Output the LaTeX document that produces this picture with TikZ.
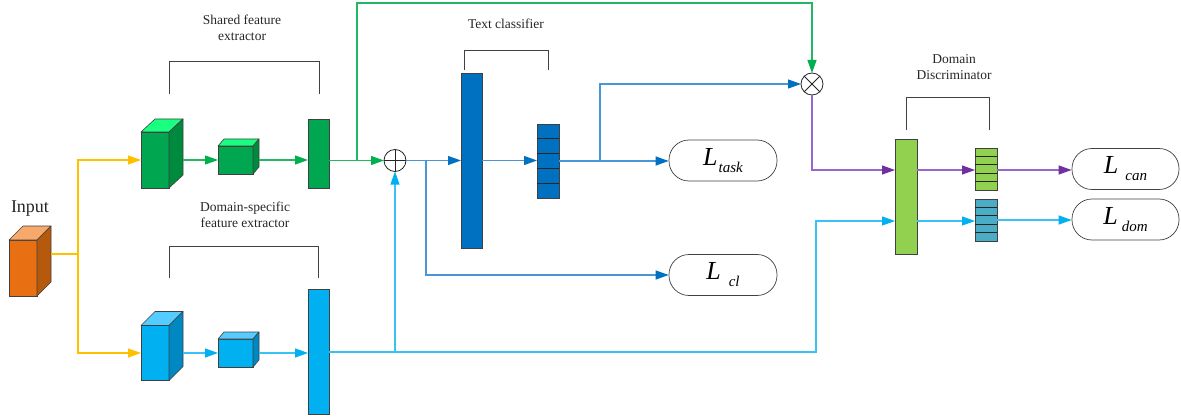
\documentclass[tikz,border=0pt]{standalone}
\usepackage{fontspec}
\setmainfont{Liberation Serif}
\usetikzlibrary{arrows.meta,calc}
\definecolor{orF}{HTML}{E97012}
\definecolor{orT}{HTML}{F6A96A}
\definecolor{orS}{HTML}{B55A0C}
\definecolor{gF}{HTML}{00A650}
\definecolor{gT}{HTML}{19FF80}
\definecolor{gS}{HTML}{008A3E}
\definecolor{bF}{HTML}{00B0F0}
\definecolor{bT}{HTML}{55CCFF}
\definecolor{bS}{HTML}{0088C2}
\definecolor{dB}{HTML}{0070C0}
\definecolor{lG}{HTML}{92D050}
\definecolor{tl}{HTML}{4BACC6}
\definecolor{yl}{HTML}{FFC000}
\definecolor{gl}{HTML}{22B863}
\definecolor{gtip}{HTML}{00B050}
\definecolor{mbl}{HTML}{4A95D6}
\definecolor{lbl}{HTML}{38C2F5}
\definecolor{pul}{HTML}{9966CC}
\definecolor{putip}{HTML}{7030A0}
\newcommand\LLab[2]{\fontsize{26}{26}\selectfont\itshape L\hspace{#2}\raisebox{-7pt}{\fontsize{15}{15}\selectfont #1}}
\tikzset{
  unitbox/.style={draw=black!75, line width=0.6pt, inner sep=0pt, outer sep=0pt, rectangle},
  lossbox/.style={draw=black!75, line width=0.7pt, rounded corners=20pt, minimum width=108pt, minimum height=41pt, inner sep=0pt},
  opnode/.style={draw=black!85, line width=0.8pt, circle, minimum size=22pt, inner sep=0pt, outer sep=0pt},
  conn/.style={line width=1.2pt, draw=#1},
  arrowto/.style={-{Triangle[length=13pt,width=9pt,color=#1]}},
  bracket/.style={draw=black!75, line width=0.9pt},
  lab/.style={align=center, font=\fontsize{13.5}{16}\selectfont, text=black!85},
  facetop/.style={fill=#1, draw=black!75, line width=0.6pt, line join=round},
}
\begin{document}
\begin{tikzpicture}[x=1pt,y=-1pt]
\useasboundingbox (0,0) rectangle (1181,417);
% ---------- cubes ----------
\node[unitbox, fill=orF, minimum width=28pt, minimum height=56pt] (inp) at (23,268) {};
\fill[facetop=orT] (inp.north west) -- (inp.north east) -- ++(14,-14) -- ($(inp.north west)+(14,-14)$) -- cycle;
\fill[facetop=orS] (inp.north east) -- ++(14,-14) -- ($(inp.south east)+(14,-14)$) -- (inp.south east) -- cycle;
\node[font=\fontsize{18}{18}\selectfont, text=black!85] (inlab) at (30,209) {Input};

\node[unitbox, fill=gF, minimum width=28pt, minimum height=56pt] (g1) at (155,160) {};
\fill[facetop=gT] (g1.north west) -- (g1.north east) -- ++(14,-13) -- ($(g1.north west)+(14,-13)$) -- cycle;
\fill[facetop=gS] (g1.north east) -- ++(14,-13) -- ($(g1.south east)+(14,-13)$) -- (g1.south east) -- cycle;

\node[unitbox, fill=gF, minimum width=35pt, minimum height=28pt] (g2) at (235.5,160) {};
\fill[facetop=gT] (g2.north west) -- (g2.north east) -- ++(6,-7) -- ($(g2.north west)+(6,-7)$) -- cycle;
\fill[facetop=gS] (g2.north east) -- ++(6,-7) -- ($(g2.south east)+(6,-7)$) -- (g2.south east) -- cycle;

\node[unitbox, fill=gF, minimum width=21pt, minimum height=69pt] (gbar) at (318.5,153.5) {};

\node[unitbox, fill=bF, minimum width=28pt, minimum height=55pt] (b1) at (155,353) {};
\fill[facetop=bT] (b1.north west) -- (b1.north east) -- ++(14,-14) -- ($(b1.north west)+(14,-14)$) -- cycle;
\fill[facetop=bS] (b1.north east) -- ++(14,-14) -- ($(b1.south east)+(14,-14)$) -- (b1.south east) -- cycle;

\node[unitbox, fill=bF, minimum width=35pt, minimum height=28pt] (b2) at (235.5,353) {};
\fill[facetop=bT] (b2.north west) -- (b2.north east) -- ++(6,-7) -- ($(b2.north west)+(6,-7)$) -- cycle;
\fill[facetop=bS] (b2.north east) -- ++(6,-7) -- ($(b2.south east)+(6,-7)$) -- (b2.south east) -- cycle;

\node[unitbox, fill=bF, minimum width=21pt, minimum height=125pt] (bbar) at (318.5,352) {};

% ---------- labels and brackets ----------
\node[lab] (shlab) at (242,28) {Shared feature\\extractor};
\draw[bracket] (169,94) -- (169,61) -- (319,61) -- (319,94);
\node[lab] (dslab) at (245,214.5) {Domain-specific\\feature extractor};
\draw[bracket] (169,278) -- (169,246) -- (318,246) -- (318,278);
\node[lab] (tclab) at (506,24) {Text classifier};
\draw[bracket] (464,70) -- (464,50) -- (548,50) -- (548,70);
\node[lab] (ddlab) at (954,67) {Domain\\Discriminator};
\draw[bracket] (906,130) -- (906,97) -- (989,97) -- (989,130);

% ---------- middle ----------
\node[opnode] (op) at (395,160.5) {};
\draw[line width=0.8pt, black!85] (op.north) -- (op.south) (op.west) -- (op.east);
\node[unitbox, fill=dB, minimum width=21pt, minimum height=175pt] (tc) at (471.5,160.5) {};
\node[unitbox, fill=dB, minimum width=22pt, minimum height=74pt] (ts) at (548,161) {};
\foreach \i in {1,...,4}
  \draw[line width=0.8pt, black!85] ($(ts.north west)!\i/5!(ts.south west)$) -- ($(ts.north east)!\i/5!(ts.south east)$);
\node[lossbox] (ltask) at (723,160.5) {\LLab{task}{1pt}};
\node[lossbox] (lcl) at (723,275) {\LLab{cl}{8pt}};
\node[opnode] (ot) at (812,84) {};
\draw[line width=0.8pt, black!85] (ot.north west) -- (ot.south east) (ot.north east) -- (ot.south west);

% ---------- right ----------
\node[unitbox, fill=lG, minimum width=22pt, minimum height=115pt] (dd) at (906,196.5) {};
\node[unitbox, fill=lG, minimum width=22pt, minimum height=42pt] (cs) at (986,169) {};
\foreach \i in {1,...,4}
  \draw[line width=0.8pt, black!85] ($(cs.north west)!\i/5!(cs.south west)$) -- ($(cs.north east)!\i/5!(cs.south east)$);
\node[unitbox, fill=tl, minimum width=22pt, minimum height=42pt] (tst) at (986,220) {};
\foreach \i in {1,...,4}
  \draw[line width=0.8pt, black!85] ($(tst.north west)!\i/5!(tst.south west)$) -- ($(tst.north east)!\i/5!(tst.south east)$);
\node[lossbox, minimum width=107pt] (lcan) at (1125.5,169) {\LLab{can}{7pt}};
\node[lossbox, minimum width=107pt] (ldom) at (1125.5,219.5) {\LLab{dom}{4pt}};

% ---------- connectors ----------
\coordinate (inpR) at ($(inp.east)+(14,-14)$);
\coordinate (ysp) at (78,254);
\draw[conn=yl] (inpR) -- (ysp);
\draw[conn=yl, arrowto=yl] (ysp) |- (g1.west);
\draw[conn=yl, arrowto=yl] (ysp) |- (b1.west);

\draw[conn=gl, arrowto=gtip] ($(g1.east)+(14,0)$) -- (g2.west);
\draw[conn=gl, arrowto=gtip] ($(g2.east)+(6,0)$) -- (g2.east -| gbar.west);
\draw[conn=gl, arrowto=gtip] (op.west -| gbar.east) -- (op.west);
\coordinate (gsp) at (357,160.5);
\coordinate (gtop) at (357,3);
\draw[conn=gl, arrowto=gtip] (gsp) -- (gtop) -| (ot.north);

\draw[conn=lbl, arrowto=bF] ($(b1.east)+(14,0)$) -- (b2.west);
\draw[conn=lbl, arrowto=bF] ($(b2.east)+(6,0)$) -- (b2.east -| bbar.west);
\coordinate (lbj) at (816,221);
\draw[conn=lbl, arrowto=bF] (bbar.east) -| (lbj) -- (lbj -| dd.west);
\coordinate (lbs) at (bbar.east -| op.south);
\draw[conn=lbl, arrowto=bF] (lbs) -- (op.south);
\draw[conn=lbl, arrowto=bF] (lbj -| dd.east) -- (lbj -| tst.west);
\draw[conn=lbl, arrowto=bF] (tst.east) -- (tst.east -| ldom.west);

\draw[conn=mbl, arrowto=dB] (op.east) -- (op.east -| tc.west);
\coordinate (mbs) at (426,160.5);
\draw[conn=mbl, arrowto=dB] (mbs) |- (lcl.west);
\draw[conn=mbl, arrowto=dB] (op.east -| tc.east) -- (op.east -| ts.west);
\draw[conn=mbl, arrowto=dB] (ts.east) -- (ts.east -| ltask.west);
\coordinate (tsb) at (600,161);
\draw[conn=mbl, arrowto=dB] (tsb) |- (ot.west);

\coordinate (pj) at (895,170);
\draw[conn=pul, arrowto=putip] (ot.south) |- (pj);
\draw[conn=pul, arrowto=putip] (pj -| dd.east) -- (pj -| cs.west);
\draw[conn=pul, arrowto=putip] (pj -| cs.east) -- (pj -| lcan.west);
\end{tikzpicture}
\end{document}
